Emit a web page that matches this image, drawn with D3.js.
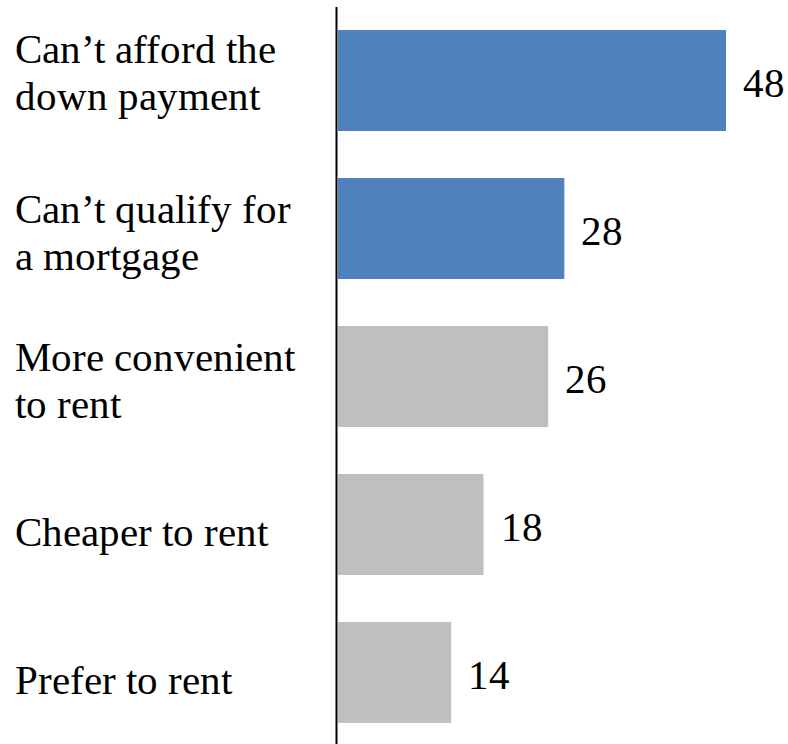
<!DOCTYPE html>
<html>
<head>
<meta charset="utf-8">
<script src="https://cdn.jsdelivr.net/npm/d3@7"></script>
<style>
  @font-face {
    font-family: "LabelSerif";
    src: local("Liberation Serif"), local("LiberationSerif"), local("LiberationSerif-Regular"), local("Tinos"), local("Nimbus Roman");
  }
  html, body { margin: 0; padding: 0; background: #fff; }
</style>
</head>
<body>
<svg id="rent-reasons" width="788" height="744"></svg>
<script>
// Reasons for renting rather than buying (percent)
const categories = [
  "Can’t afford the down payment",
  "Can’t qualify for a mortgage",
  "More convenient to rent",
  "Cheaper to rent",
  "Prefer to rent"
];
const labelLines = [
  ["Can’t afford the", "down payment"],
  ["Can’t qualify for", "a mortgage"],
  ["More convenient", "to rent"],
  ["Cheaper to rent"],
  ["Prefer to rent"]
];
const values = [48, 28, 26, 18, 14];
const highlighted = [true, true, false, false, false];

const W = 788, H = 744;
const axisX = 338;
const fontSize = 41;
const lineGap = 47.5;
const serif = '"LabelSerif", "Liberation Serif", serif';

const svg = d3.select("#rent-reasons");

const x = d3.scaleLinear()
  .domain([0, 48])
  .range([axisX, 726]);

const y = d3.scaleBand()
  .domain(categories)
  .range([8, 745])
  .paddingInner(47 / 148)
  .paddingOuter(0.149);

// bars
svg.append("g")
  .selectAll("rect")
  .data(values)
  .join("rect")
  .attr("x", x(0))
  .attr("y", (d, i) => y(categories[i]))
  .attr("width", d => x(d) - x(0))
  .attr("height", y.bandwidth())
  .attr("fill", (d, i) => highlighted[i] ? "#4F81BD" : "#BFBFBF");

// value labels
svg.append("g")
  .selectAll("text")
  .data(values)
  .join("text")
  .attr("x", d => x(d) + 17)
  .attr("y", (d, i) => y(categories[i]) + y.bandwidth() / 2 + 16.5)
  .style("font-family", serif)
  .style("font-size", fontSize + "px")
  .attr("fill", "#000")
  .text(d => d);

// category labels (left of the axis)
const firstLineNudge = [-12, 0, 0, 0, 0];
const catG = svg.append("g");
labelLines.forEach((lines, i) => {
  const cy = y(categories[i]) + y.bandwidth() / 2;
  const base = cy + 21.5 - (lines.length - 1) * 27.5 + firstLineNudge[i];
  const t = catG.append("text")
    .attr("x", 15)
    .attr("y", base)
    .style("font-family", serif)
    .style("font-size", fontSize + "px")
    .attr("fill", "#000");
  lines.forEach((ln, j) => {
    t.append("tspan")
      .attr("x", 15)
      .attr("y", base + j * lineGap)
      .text(ln);
  });
});

// vertical axis line
svg.append("line")
  .attr("x1", axisX - 1.5)
  .attr("x2", axisX - 1.5)
  .attr("y1", 7)
  .attr("y2", H)
  .attr("stroke", "#000")
  .attr("stroke-width", 2);
</script>
</body>
</html>
